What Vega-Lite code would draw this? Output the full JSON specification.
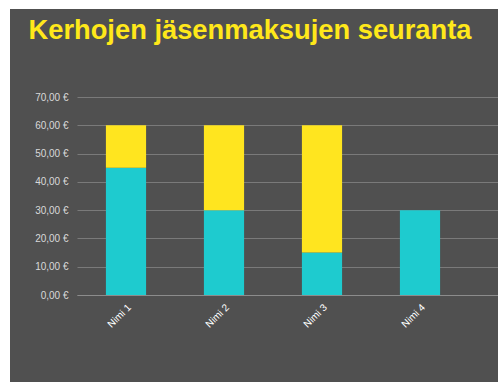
{
  "$schema": "https://vega.github.io/schema/vega-lite/v6.json",
  "width": 488,
  "height": 373,
  "autosize": {"type": "none"},
  "padding": {"left": 10, "top": 9, "right": 0, "bottom": 0},
  "background": "white",
  "view": {"fill": "#505050", "stroke": null},
  "data": {
    "values": [
      {"nimi": "Nimi 1", "tila": "Maksettu", "summa": 45},
      {"nimi": "Nimi 1", "tila": "Maksamatta", "summa": 15},
      {"nimi": "Nimi 2", "tila": "Maksettu", "summa": 30},
      {"nimi": "Nimi 2", "tila": "Maksamatta", "summa": 30},
      {"nimi": "Nimi 3", "tila": "Maksettu", "summa": 15},
      {"nimi": "Nimi 3", "tila": "Maksamatta", "summa": 45},
      {"nimi": "Nimi 4", "tila": "Maksettu", "summa": 30},
      {"nimi": "Nimi 4", "tila": "Maksamatta", "summa": 0},
      {"nimi": "Nimi 5", "tila": "Maksettu", "summa": 0},
      {"nimi": "Nimi 5", "tila": "Maksamatta", "summa": 0}
    ]
  },
  "mark": {"type": "bar"},
  "encoding": {
    "x": {
      "field": "nimi",
      "type": "nominal",
      "sort": null,
      "scale": {"range": [67, 557], "paddingInner": 0.59, "paddingOuter": 0.295},
      "axis": {
        "orient": "bottom",
        "offset": -87,
        "title": null,
        "labelAngle": -45,
        "labelColor": "#FFFFFF",
        "labelFont": "Liberation Sans",
        "labelFontSize": 10,
        "ticks": false,
        "tickSize": 0,
        "labelPadding": 7,
        "domainColor": "#8C8C8C",
        "domainWidth": 1,
        "grid": false
      }
    },
    "y": {
      "field": "summa",
      "type": "quantitative",
      "stack": "zero",
      "scale": {"domain": [0, 70], "range": [286, 88], "nice": false, "zero": true},
      "axis": {
        "orient": "left",
        "offset": -67,
        "title": "Kerhojen jäsenmaksujen seuranta",
        "titleAngle": 0,
        "titleX": -49,
        "titleY": 29,
        "titleAlign": "left",
        "titleBaseline": "alphabetic",
        "titleFont": "Liberation Sans",
        "titleFontSize": 27.3,
        "titleFontWeight": "bold",
        "titleColor": "#FFE81A",
        "values": [0, 10, 20, 30, 40, 50, 60, 70],
        "labelExpr": "replace(format(datum.value, '.2f'), '.', ',') + ' €'",
        "labelColor": "#D9D9D9",
        "labelFont": "Liberation Sans",
        "labelFontSize": 10,
        "labelPadding": 9,
        "ticks": false,
        "tickSize": 0,
        "domain": false,
        "grid": true,
        "gridColor": "#7A7A7A",
        "gridWidth": 1
      }
    },
    "color": {
      "field": "tila",
      "type": "nominal",
      "scale": {"domain": ["Maksettu", "Maksamatta"], "range": ["#1ECBCF", "#FFE51F"]},
      "legend": null
    },
    "order": {"field": "tila", "sort": "descending"}
  }
}
